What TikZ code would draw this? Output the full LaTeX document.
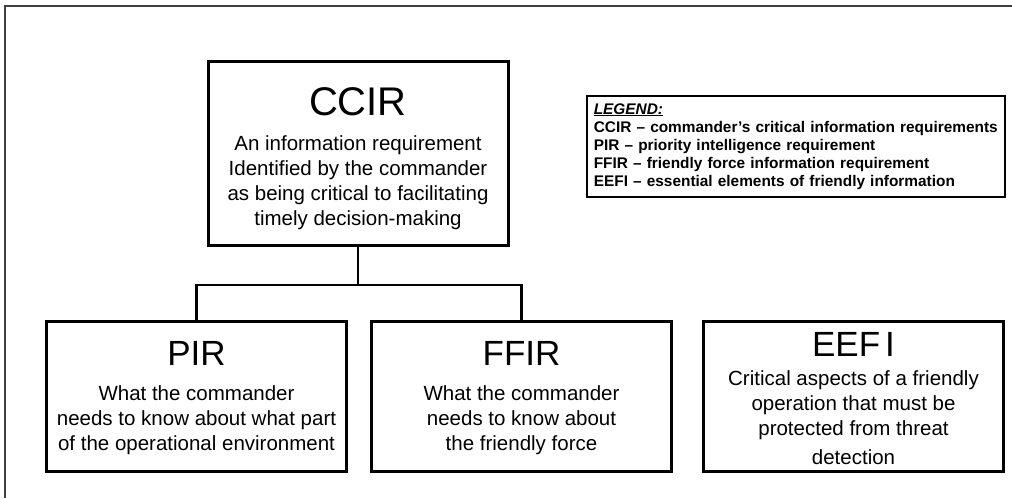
\documentclass[tikz,border=0pt]{standalone}
\usepackage{fontspec}
\setmainfont{Liberation Sans}
\usepackage{tikz}
\usetikzlibrary{positioning,calc}

\newcommand{\headfont}{\fontsize{35}{38}\selectfont}
\newcommand{\bigheadfont}{\fontsize{40}{42}\selectfont}
\newcommand{\bodyfont}{\fontsize{20.5}{25}\selectfont}

\begin{document}
\begin{tikzpicture}[
    x=1pt,
    y=-1pt,
    reqbox/.style={
        rectangle,
        draw,
        line width=3pt,
        minimum width=300pt,
        minimum height=150pt
    },
    boxtext/.style={
        align=center,
        inner sep=0pt,
        font=\bodyfont
    },
    legendbox/.style={
        rectangle,
        draw,
        line width=1.6pt,
        align=left,
        inner sep=7pt,
        text width=404pt,
        minimum height=101pt,
        font=\fontsize{15.4}{18}\selectfont\bfseries
    },
    link/.style={line width=2.6pt},
    frame/.style={line width=1.5pt, draw=black!75}
]
\useasboundingbox (0,0) rectangle (1012,498);

% Page frame
\draw[frame] (5,498) -- (5,6) -- (1012,6);

% Top box
\node[reqbox, minimum height=184pt] (ccir) at (358,153.5) {};
\node[boxtext] (ccirtext) at ([yshift=-5pt]ccir.center)
    {{\bigheadfont CCIR}\\[10pt]
     An information requirement\\
     Identified by the commander\\
     as being critical to facilitating\\
     timely decision-making};

% Lower boxes
\node[reqbox] (pir) at (196.5,396.5) {};
\node[reqbox] (ffir) at (521.5,396.5) {};
\node[reqbox] (eefi) at (853.5,396.5) {};

\node[boxtext] (pirtext) at ([yshift=-2pt]pir.center)
    {{\headfont PIR}\\[10pt]
     What the commander\\
     needs to know about what part\\
     of the operational environment};
\node[boxtext] (ffirtext) at ([yshift=-2pt]ffir.center)
    {{\headfont FFIR}\\[10pt]
     What the commander\\
     needs to know about\\
     the friendly force};
\node[boxtext] (eefitext) at ([yshift=-2pt]eefi.center)
    {{\headfont EEF\hspace{5pt}I}\\[4pt]
     Critical aspects of a friendly\\
     operation that must be\\
     protected from threat\\[4pt]
     detection};

% Legend
\node[legendbox, anchor=north west] (legend) at (586,95)
    {\underline{\textit{LEGEND:}}\\
     CCIR -- commander's critical information requirements\\
     PIR -- priority intelligence requirement\\
     FFIR -- friendly force information requirement\\
     EEFI -- essential elements of friendly information};

% Tree lines
\draw[link] (ccir.south) -- ++(0,38) coordinate (split);
\draw[link] (pir.north) |- (split) -| (ffir.north);
\end{tikzpicture}
\end{document}
